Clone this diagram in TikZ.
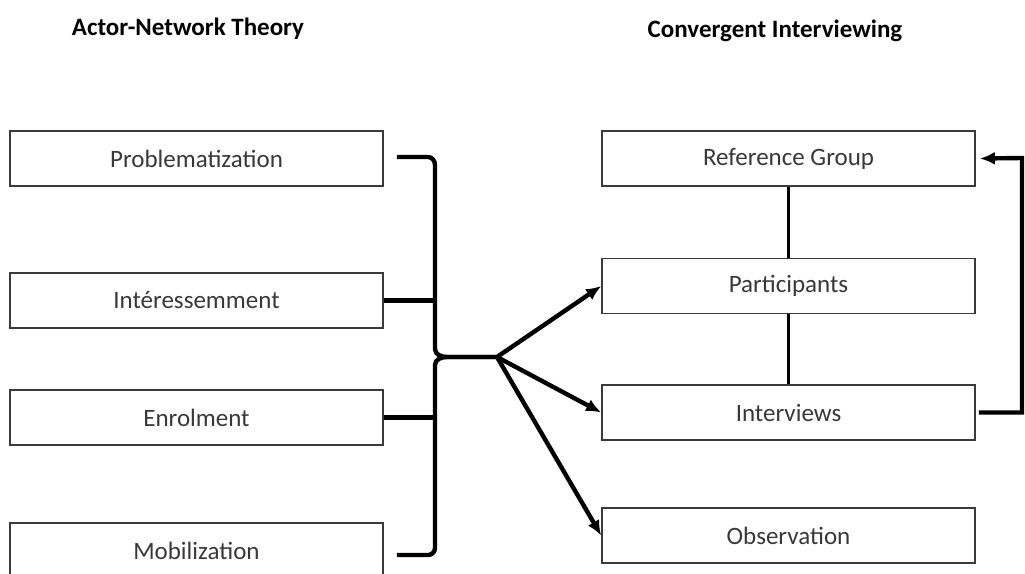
\documentclass[tikz,border=0pt]{standalone}
\usepackage{fontspec}
\setmainfont{Carlito}
\usetikzlibrary{arrows.meta}
\definecolor{boxline}{HTML}{3A3A3A}
\definecolor{boxtext}{HTML}{383838}
\tikzset{
  stage/.style={draw=boxline, line width=1.6pt, minimum width=373pt, minimum height=55pt,
    inner sep=0pt, text=boxtext, font=\fontsize{25}{30}\selectfont},
  heading/.style={font=\bfseries\fontsize{25}{30}\selectfont, text=black},
  link/.style={line width=4.4pt, black},
  arr/.style={link, -{Latex[length=15pt,width=13pt]}}
}
\begin{document}
\begin{tikzpicture}[x=1pt,y=-1pt]
\useasboundingbox (0,0) rectangle (1025,573);

% column headings
\node[heading] (antTitle) at (188,29) {Actor-Network Theory};
\node[heading] (ciTitle) at (775,31) {Convergent Interviewing};

% Actor-Network Theory stages
\node[stage] (prob) at (196.5,158.5) {Problematization};
\node[stage] (inte) at (196.5,300.5) {Intéressemment};
\node[stage] (enro) at (196.5,417.5) {Enrolment};
\node[stage] (mobi) at (196.5,550.5) {Mobilization};

% Convergent Interviewing stages
\node[stage] (refg) at (788.5,158.5) {Reference Group};
\node[stage] (part) at (788.5,286) {Participants};
\node[stage] (intv) at (788.5,412.5) {Interviews};
\node[stage] (obsv) at (788.5,535.5) {Observation};

% brace gathering the four stages
\coordinate (hub) at (497,357);
\coordinate (spine) at (435,357);
\draw[link, line join=round]
  ([xshift=13pt]prob.east |- 0,157) -- (428,157) to[out=0,in=90] (435,165)
  -- (435,349) to[out=-90,in=180] (447,357) -- (hub);
\draw[link, line join=round]
  (hub) -- (447,357) to[out=180,in=90] (435,365)
  -- (435,548) to[out=-90,in=0] (428,555) -- ([xshift=13pt]mobi.east |- 0,555);
\draw[link] (inte.east) -- (inte.east -| spine);
\draw[link] (enro.east) -- (enro.east -| spine);

% fan-out to the interviewing stages
\draw[arr] (hub) -- (part.west);
\draw[arr] (hub) -- (intv.west);
\draw[arr] (hub) -- (obsv.west);

% chain on the right
\draw[link, line width=3.6pt] (refg.south) -- (part.north);
\draw[link, line width=3.6pt] (part.south) -- (intv.north);

% feedback loop from interviews to the reference group
\coordinate (loopTop) at (1022,158);
\draw[arr, line join=miter]
  ([xshift=3pt]intv.east) -| (loopTop) -- ([xshift=4pt]refg.east);
\end{tikzpicture}
\end{document}
